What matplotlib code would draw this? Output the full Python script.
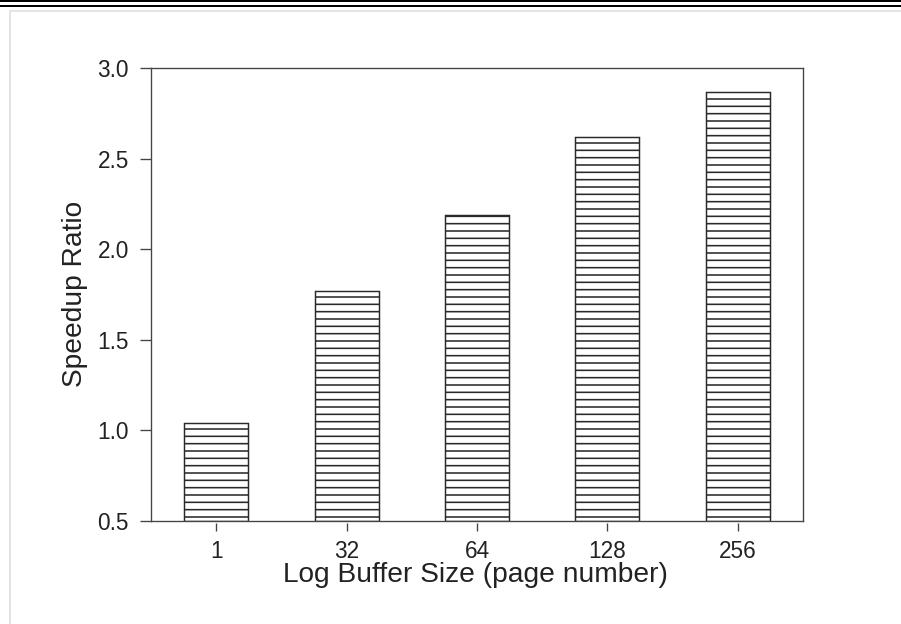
import matplotlib
matplotlib.use("Agg")
import matplotlib.pyplot as plt
from matplotlib.patches import Rectangle
from matplotlib.transforms import IdentityTransform

categories = ["1", "32", "64", "128", "256"]
speedup = [1.04, 1.77, 2.19, 2.62, 2.87]
yticks = [0.5, 1.0, 1.5, 2.0, 2.5, 3.0]
xlabel = "Log Buffer Size (page number)"
ylabel = "Speedup Ratio"

DPI = 88
W, H = 901, 624
plt.rcParams['font.family'] = ['Liberation Sans', 'DejaVu Sans']
plt.rcParams['hatch.linewidth'] = 1.3
plt.rcParams['hatch.color'] = '#2a2a2a'

fig = plt.figure(figsize=(W / DPI, H / DPI), dpi=DPI)
fig.patch.set_facecolor('white')

# page frame artifacts (screenshot border)
for (x, y, w, h, c) in [
    (0, H - 2, W, 2, 'black'),
    (0, H - 7, W, 2, 'black'),
    (9, H - 12, W - 9, 2, '#e4e4e4'),
    (9, 0, 2, H - 10, '#e4e4e4'),
]:
    fig.patches.append(Rectangle((x, y), w, h, transform=IdentityTransform(),
                                 facecolor=c, edgecolor='none', figure=fig))

left, right, top, bottom = 151, 803, 68, 521
ax = fig.add_axes([left / W, 1 - bottom / H, (right - left) / W, (bottom - top) / H])

ymin, ymax = 0.5, 3.0
xs = list(range(len(categories)))
heights = [v - ymin for v in speedup]
ax.bar(xs, heights, bottom=ymin, width=0.49, color='white', edgecolor='#2a2a2a',
       linewidth=1.2, hatch='--', zorder=2)

ax.set_xlim(-0.5, len(categories) - 0.5)
ax.set_ylim(ymin, ymax)
ax.set_yticks(yticks)
ax.set_yticklabels([f"{t:.1f}" for t in yticks])
ax.set_xticks(xs)
ax.set_xticklabels(categories)

spine_c = '#444444'
for s in ['left', 'right', 'top']:
    ax.spines[s].set_color(spine_c)
    ax.spines[s].set_linewidth(1.1)
ax.spines['bottom'].set_visible(False)
ax.axhline(ymin, color=spine_c, linewidth=1.1, zorder=3, clip_on=False)
ax.spines['bottom'].set_position(('outward', 2))

ax.tick_params(axis='y', direction='out', length=9, width=1.1, color=spine_c,
               pad=9, labelsize=18.5, labelcolor='#222222')
ax.tick_params(axis='x', direction='out', length=6.5, width=1.1, color=spine_c,
               pad=7, labelsize=18.5, labelcolor='#222222')

ax.set_xlabel(xlabel, fontsize=23, color='#222222')
ax.set_ylabel(ylabel, fontsize=23, color='#222222')
ax.xaxis.set_label_coords(0.4977, -0.091)
ax.yaxis.set_label_coords(-0.0966, 0.501)

fig.savefig("out.png", dpi=DPI, facecolor='white')
